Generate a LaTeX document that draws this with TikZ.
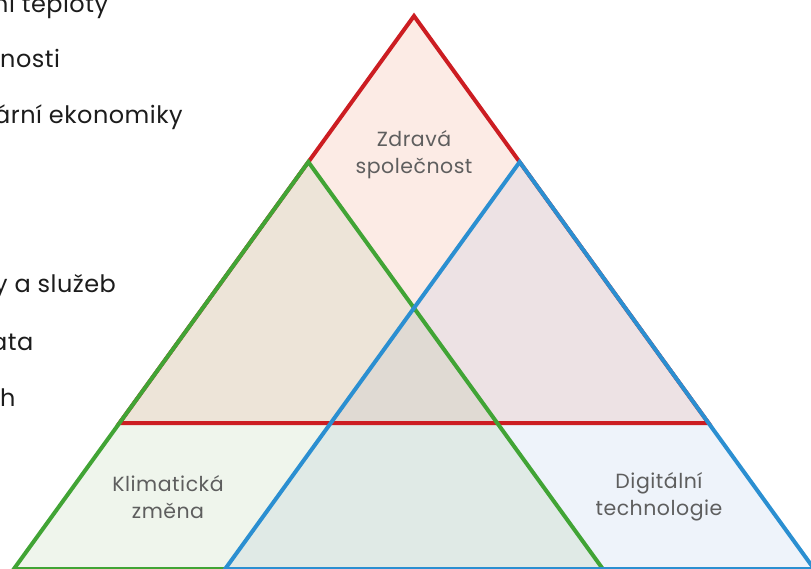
\documentclass[tikz,border=0pt]{standalone}
\usepackage{fontspec}
\setmainfont{Poppins}
\definecolor{redline}{HTML}{CC1D22}
\definecolor{greenline}{HTML}{41A435}
\definecolor{blueline}{HTML}{2B8FD1}
\definecolor{rfill}{HTML}{FCEBE5}
\definecolor{gfill}{HTML}{EFF5EC}
\definecolor{bfill}{HTML}{EEF3FA}
\definecolor{rgfill}{HTML}{EDE4D8}
\definecolor{rbfill}{HTML}{EDE2E4}
\definecolor{gbfill}{HTML}{E0EAE6}
\definecolor{rgbfill}{HTML}{E0DAD3}
\definecolor{labelgray}{HTML}{5E5E5E}
\definecolor{sidetext}{HTML}{1C1C1C}
\tikzset{
  edge/.style={line width=4pt, line join=miter},
  lbl/.style={text=labelgray, font=\fontsize{20.5}{27}\selectfont\addfontfeature{LetterSpace=2.5}, align=center, inner sep=0pt},
  side/.style={text=sidetext, font=\fontsize{24}{28}\selectfont\addfontfeature{LetterSpace=2}, anchor=base west, inner sep=0pt}
}
\begin{document}
\begin{tikzpicture}[x=1pt,y=-1pt]
\useasboundingbox (0,0) rectangle (811,569);
\clip (0,0) rectangle (811,569);
% triangle corners (three congruent triangles)
\coordinate (rt) at (414,16);
\coordinate (rl) at (119.5,423);
\coordinate (rr) at (708.5,423);
\coordinate (gt) at (308.356,162);
\coordinate (gl) at (13.856,569);
\coordinate (gr) at (602.856,569);
\coordinate (bt) at (519.644,162);
\coordinate (bl) at (225.144,569);
\coordinate (br) at (814.144,569);
\def\rtri{(rt) -- (rl) -- (rr) -- cycle}
\def\gtri{(gt) -- (gl) -- (gr) -- cycle}
\def\btri{(bt) -- (bl) -- (br) -- cycle}
% fills
\fill[rfill] \rtri;
\fill[gfill] \gtri;
\fill[bfill] \btri;
\begin{scope}\clip \rtri; \fill[rgfill] \gtri; \end{scope}
\begin{scope}\clip \rtri; \fill[rbfill] \btri; \end{scope}
\begin{scope}\clip \gtri; \fill[gbfill] \btri; \end{scope}
\begin{scope}\clip \rtri; \clip \gtri; \fill[rgbfill] \btri; \end{scope}
% outlines
\draw[edge, redline] \rtri;
\draw[edge, greenline] \gtri;
\draw[edge, blueline] \btri;
% labels
\node[lbl] (health) at (414,155) {Zdravá\\společnost};
\node[lbl] (climate) at (168,497) {Klimatická\\změna};
\node[lbl] (digital) at (659,497) {Digitální\\technologie};
% side texts, cut by the left edge as in the reference
\node[side] (s1) at (-7,13) {ní teploty};
\node[side] (s2) at (0,68) {nosti};
\node[side] (s3) at (-6,124) {ární ekonomiky};
\node[side] (s4) at (-6,293) {y a služeb};
\node[side] (s5) at (-9,350) {ata};
\node[side] (s6) at (0,406) {h};
\end{tikzpicture}
\end{document}
